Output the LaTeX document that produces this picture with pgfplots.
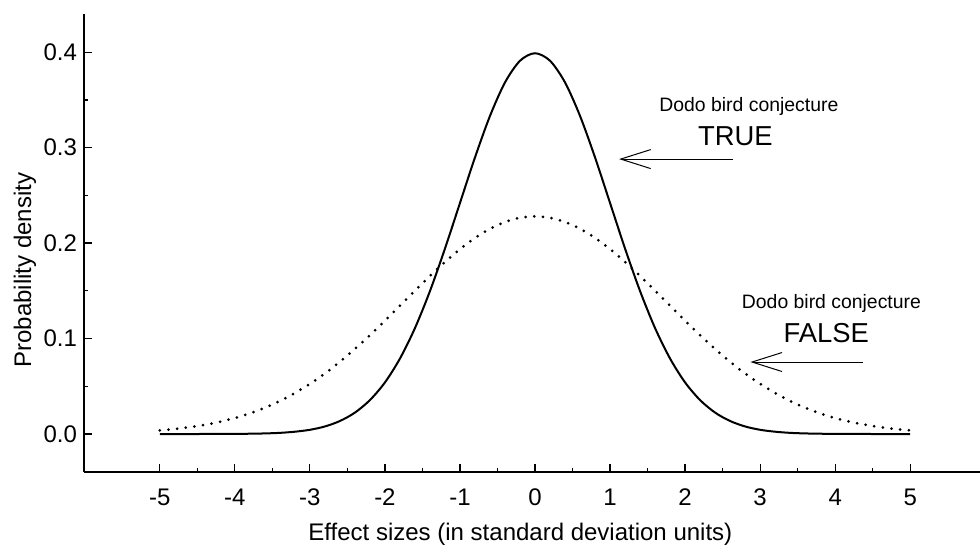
\documentclass[border=0pt]{standalone}
\usepackage{fontspec}
\setmainfont{Liberation Sans}
\usepackage{pgfplots}
\pgfplotsset{compat=1.18}
\usetikzlibrary{arrows.meta}

\begin{document}
\begin{tikzpicture}
\begin{axis}[
  scale only axis, width=448pt, height=229pt,
  xmin=-6.01, xmax=5.93, ymin=-0.0398, ymax=0.44,
  axis x line=bottom, axis y line=left,
  axis line style={-, line width=1pt},
  xtick={-5,-4,-3,-2,-1,0,1,2,3,4,5}, ytick={0,0.1,0.2,0.3,0.4},
  minor x tick num=1, minor y tick num=1,
  tick align=inside,
  major tick length=4pt, minor tick length=2pt,
  tick style={line width=0.6pt, black},
  /pgf/number format/assume math mode=true,
  y tick label style={/pgf/number format/fixed, /pgf/number format/fixed zerofill, /pgf/number format/precision=1},
  tick label style={font=\fontsize{12}{14}\selectfont},
  x tick label style={yshift=-5pt},
  xlabel={Effect sizes (in standard deviation units)},
  ylabel={Probability density},
  label style={font=\fontsize{12}{14}\selectfont},
  xlabel style={at={(axis description cs:0.487,-0.137)}, anchor=center},
  ylabel style={at={(axis description cs:-0.066,0.441)}, anchor=center},
  clip=false,
]
% Dodo bird conjecture TRUE: standard normal
\addplot[black, line width=1pt, smooth] coordinates {
(-5,0.0000) (-4.5,0.0000) (-4,0.0001) (-3.8,0.0003) (-3.6,0.0006) (-3.4,0.0012) (-3.2,0.0024)
(-3,0.0044) (-2.8,0.0079) (-2.6,0.0136) (-2.4,0.0224) (-2.2,0.0355) (-2,0.0540)
(-1.8,0.0790) (-1.6,0.1109) (-1.4,0.1497) (-1.2,0.1942) (-1,0.2420) (-0.8,0.2897)
(-0.6,0.3332) (-0.4,0.3683) (-0.2,0.3910) (0,0.3989) (0.2,0.3910) (0.4,0.3683)
(0.6,0.3332) (0.8,0.2897) (1,0.2420) (1.2,0.1942) (1.4,0.1497) (1.6,0.1109)
(1.8,0.0790) (2,0.0540) (2.2,0.0355) (2.4,0.0224) (2.6,0.0136) (2.8,0.0079)
(3,0.0044) (3.2,0.0024) (3.4,0.0012) (3.6,0.0006) (3.8,0.0003) (4,0.0001) (4.5,0.0000) (5,0.0000)
};
% Dodo bird conjecture FALSE: wider distribution
\addplot[black, line width=1.5pt, line cap=round, dash pattern=on 0pt off 4.35pt, smooth] coordinates {
(-5,0.0038) (-4.75,0.0057) (-4.5,0.0084) (-4.25,0.0119) (-4,0.0167) (-3.75,0.0230)
(-3.5,0.0309) (-3.25,0.0407) (-3,0.0525) (-2.75,0.0663) (-2.5,0.0822) (-2.25,0.0998)
(-2,0.1187) (-1.75,0.1383) (-1.5,0.1579) (-1.25,0.1767) (-1,0.1936) (-0.75,0.2080)
(-0.5,0.2189) (-0.25,0.2257) (0,0.2280) (0.25,0.2257) (0.5,0.2189) (0.75,0.2080)
(1,0.1936) (1.25,0.1767) (1.5,0.1579) (1.75,0.1383) (2,0.1187) (2.25,0.0998)
(2.5,0.0822) (2.75,0.0663) (3,0.0525) (3.25,0.0407) (3.5,0.0309) (3.75,0.0230)
(4,0.0167) (4.25,0.0119) (4.5,0.0084) (4.75,0.0057) (5,0.0038)
};
\node[font=\fontsize{9.7}{11}\selectfont] at (axis cs:2.85,0.343) {Dodo bird conjecture};
\node[font=\fontsize{13.7}{16}\selectfont] at (axis cs:2.67,0.312) {TRUE};
\draw[-{Straight Barb[length=15pt,width=9.5pt]}, line width=0.5pt] (axis cs:2.64,0.288) -- (axis cs:1.12,0.288);
\node[font=\fontsize{9.7}{11}\selectfont] at (axis cs:3.95,0.137) {Dodo bird conjecture};
\node[font=\fontsize{13.7}{16}\selectfont] at (axis cs:3.88,0.106) {FALSE};
\draw[-{Straight Barb[length=15pt,width=9.5pt]}, line width=0.5pt] (axis cs:4.37,0.0754) -- (axis cs:2.87,0.0754);
\end{axis}
\pgfresetboundingbox
\path[use as bounding box] ([xshift=-42pt,yshift=-39pt]current axis.south west) rectangle ([yshift=7pt]current axis.north east);
\end{tikzpicture}
\end{document}
